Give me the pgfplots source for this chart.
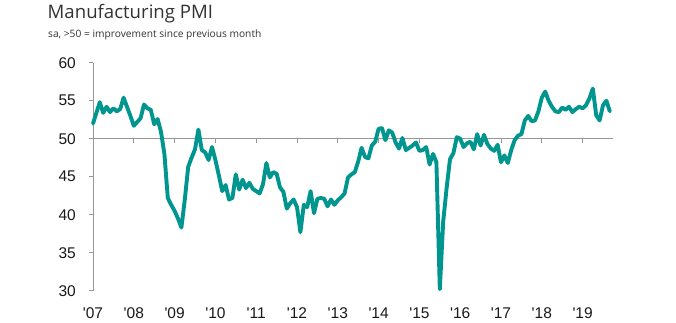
\documentclass[border=0pt]{standalone}
\usepackage{pgfplots}
\pgfplotsset{compat=1.18}
\usepackage{pgfplotstable}
\usepackage{fontspec}
\setmainfont{Liberation Sans}
\newfontfamily\titlefont{Open Sans}

\definecolor{pmiteal}{RGB}{0,150,143}
\definecolor{axisgray}{RGB}{150,150,150}
\definecolor{labelblack}{RGB}{25,25,25}
\definecolor{titlegray}{RGB}{50,50,50}

% Monthly manufacturing PMI, month index 0 = Jan 2007
\pgfplotstableread{
m pmi
0 52.0
1 53.4
2 54.8
3 53.4
4 54.2
5 53.5
6 54.0
7 53.6
8 53.9
9 55.4
10 54.2
11 53.0
12 51.7
13 52.2
14 52.7
15 54.5
16 54.0
17 53.8
18 51.9
19 52.6
20 50.9
21 48.0
22 42.2
23 41.3
24 40.5
25 39.5
26 38.3
27 42.0
28 46.3
29 47.5
30 48.6
31 51.2
32 48.5
33 48.2
34 47.2
35 48.9
36 47.2
37 45.2
38 43.1
39 43.9
40 42.0
41 42.2
42 45.3
43 43.3
44 44.6
45 43.5
46 44.2
47 43.4
48 43.1
49 42.8
50 44.0
51 46.8
52 44.9
53 45.6
54 45.4
55 43.6
56 43.0
57 40.8
58 41.5
59 42.0
60 41.0
61 37.7
62 41.3
63 41.0
64 43.1
65 40.2
66 42.1
67 42.2
68 42.1
69 41.1
70 42.0
71 41.3
72 41.9
73 42.3
74 42.8
75 44.9
76 45.3
77 45.6
78 47.0
79 48.8
80 47.6
81 47.4
82 49.1
83 49.6
84 51.3
85 51.4
86 49.8
87 51.1
88 50.8
89 49.5
90 48.7
91 50.1
92 48.5
93 48.8
94 49.1
95 49.5
96 48.4
97 48.5
98 48.9
99 46.6
100 48.0
101 46.9
102 30.2
103 39.1
104 43.5
105 47.3
106 48.1
107 50.2
108 50.0
109 48.9
110 49.4
111 49.6
112 48.6
113 50.6
114 49.1
115 50.5
116 49.3
117 48.7
118 48.4
119 49.2
120 46.9
121 47.8
122 46.8
123 48.5
124 49.8
125 50.4
126 50.6
127 52.4
128 53.0
129 52.3
130 52.4
131 53.6
132 55.4
133 56.2
134 55.0
135 54.2
136 53.6
137 53.5
138 54.1
139 53.8
140 54.2
141 53.5
142 53.9
143 54.2
144 54.0
145 54.4
146 55.3
147 56.6
148 53.1
149 52.4
150 54.4
151 55.0
152 53.6
}\pmidata

\begin{document}
\begin{tikzpicture}
\useasboundingbox (0,0) rectangle (676pt,322pt);

\node[anchor=base west, inner sep=0pt, text=titlegray,
      font=\titlefont\fontsize{18.6}{20}\selectfont] at (47.5pt,303.7pt) {Manufacturing PMI};
\node[anchor=base west, inner sep=0pt, text=titlegray,
      font=\titlefont\fontsize{10.2}{12}\selectfont] at (48pt,284.9pt)
      {sa, >50 = improvement since previous month};

\begin{axis}[
  at={(93pt,31.3pt)}, anchor=south west,
  scale only axis, width=520.2pt, height=228pt,
  xmin=0, xmax=153, ymin=30, ymax=60,
  clip=false,
  axis y line*=left, axis x line*=bottom,
  x axis line style={draw=none},
  y axis line style={draw=axisgray, line width=0.8pt, -},
  ytick={30,35,...,60},
  ytick style={draw=axisgray, line width=0.8pt},
  tick align=outside, major tick length=4pt,
  xtick={0,12,...,144},
  xticklabels={\textquotesingle07,\textquotesingle08,\textquotesingle09,\textquotesingle10,
    \textquotesingle11,\textquotesingle12,\textquotesingle13,\textquotesingle14,
    \textquotesingle15,\textquotesingle16,\textquotesingle17,\textquotesingle18,\textquotesingle19},
  xtick style={draw=none},
  /pgf/number format/assume math mode=true,
  ticklabel style={font=\fontsize{15.5}{17}\selectfont, text=labelblack},
  xticklabel style={anchor=north, inner sep=0pt, yshift=-12.5pt},
  yticklabel style={anchor=east, inner sep=0pt, xshift=-13pt},
]
  % reference line at 50 with a small tick at the start of each year
  \draw[axisgray, line width=0.8pt] (axis cs:0,50) -- (axis cs:153,50);
  \pgfplotsinvokeforeach{12,24,...,144}{
    \draw[axisgray, line width=0.8pt] (axis cs:#1,50) -- ([yshift=-4pt]axis cs:#1,50);
  }
  \addplot[pmiteal, line width=3.9pt, line join=round, line cap=round, mark=none]
    table[x=m, y=pmi]{\pmidata};
\end{axis}
\end{tikzpicture}
\end{document}
